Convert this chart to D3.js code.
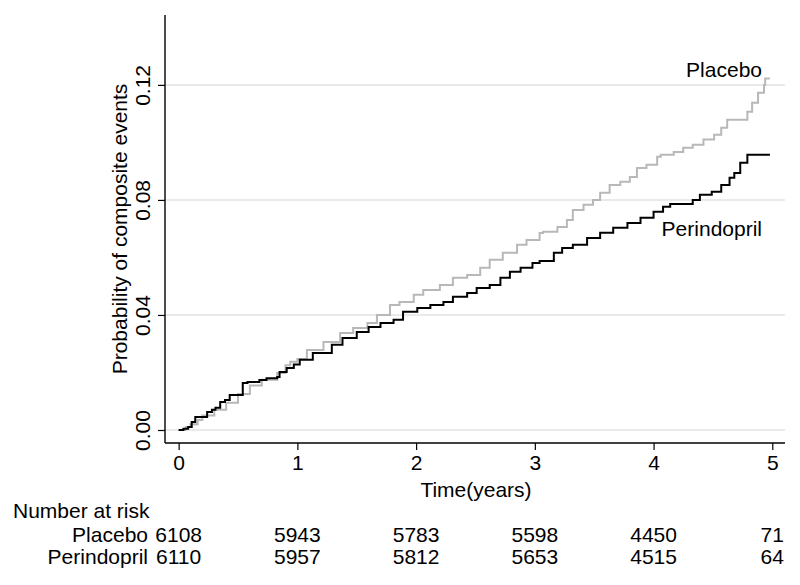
<!DOCTYPE html>
<html>
<head>
<meta charset="utf-8">
<script src="https://cdn.jsdelivr.net/npm/d3@7"></script>
<style>
  body { margin: 0; background: #fff; }
  svg text { font-family: "Liberation Sans", Arial, Helvetica, sans-serif; fill: #000; }
</style>
</head>
<body>
<svg width="800" height="585"></svg>
<script>
// cumulative event probability (step curves)
let placeboTime = [0, 0.06, 0.1, 0.16, 0.2, 0.3, 0.4, 0.5, 0.6, 0.7, 0.83, 0.9, 0.94, 1.0, 1.08, 1.22, 1.36, 1.47, 1.59, 1.67, 1.78, 1.86, 1.98, 2.06, 2.2, 2.31, 2.43, 2.54, 2.62, 2.73, 2.85, 2.93, 3.04, 3.07, 3.19, 3.27, 3.32, 3.41, 3.49, 3.55, 3.63, 3.72, 3.8, 3.86, 3.94, 4.03, 4.06, 4.17, 4.25, 4.33, 4.42, 4.51, 4.57, 4.62, 4.79, 4.83, 4.88, 4.93, 4.94, 4.98];
let placeboProb = [0, 0.001, 0.002, 0.0035, 0.005, 0.007, 0.0095, 0.0125, 0.0155, 0.0175, 0.0198, 0.0225, 0.0237, 0.0247, 0.0278, 0.0306, 0.0337, 0.0355, 0.0372, 0.04, 0.0435, 0.0445, 0.047, 0.0487, 0.0504, 0.0529, 0.0539, 0.0564, 0.0592, 0.0616, 0.0644, 0.0661, 0.0685, 0.0689, 0.0706, 0.073, 0.0765, 0.0783, 0.08, 0.0825, 0.0852, 0.0863, 0.088, 0.0911, 0.0922, 0.095, 0.0957, 0.0967, 0.0981, 0.0992, 0.101, 0.1027, 0.1051, 0.1079, 0.1107, 0.1138, 0.1173, 0.12, 0.1222, 0.1222];

let perinTime = [0, 0.04, 0.08, 0.11, 0.14, 0.24, 0.28, 0.31, 0.35, 0.39, 0.43, 0.54, 0.58, 0.68, 0.74, 0.83, 0.85, 0.91, 0.97, 1.02, 1.13, 1.29, 1.38, 1.5, 1.6, 1.7, 1.81, 1.89, 2.01, 2.12, 2.23, 2.31, 2.43, 2.51, 2.62, 2.71, 2.79, 2.88, 2.98, 3.04, 3.16, 3.23, 3.32, 3.44, 3.55, 3.66, 3.78, 3.89, 4.0, 4.08, 4.14, 4.33, 4.39, 4.49, 4.57, 4.64, 4.68, 4.73, 4.79, 4.98];
let perinProb = [0, 0.0004, 0.001, 0.0028, 0.0045, 0.0063, 0.007, 0.0077, 0.0097, 0.0104, 0.0122, 0.0163, 0.0167, 0.0174, 0.018, 0.0184, 0.0202, 0.0216, 0.0228, 0.0244, 0.0268, 0.0296, 0.032, 0.0341, 0.0358, 0.0372, 0.0383, 0.0411, 0.0424, 0.0435, 0.0445, 0.0463, 0.0476, 0.0494, 0.0504, 0.0529, 0.055, 0.0564, 0.0581, 0.0588, 0.0616, 0.0633, 0.0644, 0.0668, 0.0686, 0.0703, 0.072, 0.0738, 0.0759, 0.0776, 0.0786, 0.08, 0.0818, 0.0828, 0.0852, 0.0877, 0.0894, 0.0929, 0.0957, 0.0957];

let yTicks = [0, 0.04, 0.08, 0.12];
let xTicks = [0, 1, 2, 3, 4, 5];

let riskGroups = ["Placebo", "Perindopril"];
let riskPlacebo = [6108, 5943, 5783, 5598, 4450, 71];
let riskPerin = [6110, 5957, 5812, 5653, 4515, 64];

let fs = 21;
let svg = d3.select("svg");

let x = d3.scaleLinear().domain([-0.115, 5.107]).range([165, 785]);
let y = d3.scaleLinear().domain([0, 0.1443]).range([430, 15]);
let axisY = 443;

// grid
svg.append("g")
  .selectAll("line")
  .data(yTicks)
  .enter().append("line")
  .attr("x1", 165).attr("x2", 785)
  .attr("y1", d => y(d)).attr("y2", d => y(d))
  .attr("stroke", "#e3e3e3")
  .attr("stroke-width", 1.5);

// y axis
let gy = svg.append("g")
  .attr("transform", "translate(165,0)")
  .call(d3.axisLeft(y).tickValues(yTicks).tickSize(7).tickFormat(d3.format(".2f")));
gy.select(".domain").remove();
gy.selectAll(".tick line").attr("stroke", "#000").attr("stroke-width", 1.2);
gy.selectAll(".tick text")
  .attr("font-size", fs)
  .attr("text-anchor", "middle")
  .attr("x", 0).attr("dy", 0)
  .attr("transform", "translate(-15,0) rotate(-90)");
svg.append("line")
  .attr("x1", 165).attr("x2", 165).attr("y1", 15).attr("y2", axisY)
  .attr("stroke", "#000").attr("stroke-width", 1.4);

// x axis
let gx = svg.append("g")
  .attr("transform", `translate(0,${axisY})`)
  .call(d3.axisBottom(x).tickValues(xTicks).tickSize(7).tickFormat(d3.format("d")));
gx.select(".domain").remove();
gx.selectAll(".tick line").attr("stroke", "#000").attr("stroke-width", 1.2);
gx.selectAll(".tick text").attr("font-size", fs).attr("y", 27).attr("dy", 0);
svg.append("line")
  .attr("x1", 165).attr("x2", 785).attr("y1", axisY).attr("y2", axisY)
  .attr("stroke", "#000").attr("stroke-width", 1.4);

// axis titles
svg.append("text")
  .attr("transform", "translate(127,229) rotate(-90)")
  .attr("text-anchor", "middle")
  .attr("font-size", fs)
  .text("Probability of composite events");

svg.append("text")
  .attr("x", 476).attr("y", 497)
  .attr("text-anchor", "middle")
  .attr("font-size", fs)
  .text("Time(years)");

// curves
let line = d3.line()
  .x(d => x(d[0]))
  .y(d => y(d[1]))
  .curve(d3.curveStepAfter);

svg.append("path")
  .datum(placeboTime.map((t, i) => [t, placeboProb[i]]))
  .attr("d", line)
  .attr("fill", "none")
  .attr("stroke", "#b8b8b8")
  .attr("stroke-width", 2);

svg.append("path")
  .datum(perinTime.map((t, i) => [t, perinProb[i]]))
  .attr("d", line)
  .attr("fill", "none")
  .attr("stroke", "#000")
  .attr("stroke-width", 2);

// curve labels
svg.append("text")
  .attr("x", 762).attr("y", 77)
  .attr("text-anchor", "end")
  .attr("font-size", fs)
  .text("Placebo");

svg.append("text")
  .attr("x", 762).attr("y", 236)
  .attr("text-anchor", "end")
  .attr("font-size", fs)
  .text("Perindopril");

// number at risk table
svg.append("text")
  .attr("x", 13).attr("y", 518)
  .attr("font-size", fs)
  .text("Number at risk");

let rows = [riskPlacebo, riskPerin];
let rowY = [542, 564];
rows.forEach((vals, r) => {
  svg.append("text")
    .attr("x", 148).attr("y", rowY[r])
    .attr("text-anchor", "end")
    .attr("font-size", fs)
    .text(riskGroups[r]);
  svg.append("g")
    .selectAll("text")
    .data(vals)
    .enter().append("text")
    .attr("x", (d, i) => x(xTicks[i]))
    .attr("y", rowY[r])
    .attr("text-anchor", "middle")
    .attr("font-size", fs)
    .text(d => d);
});
</script>
</body>
</html>
